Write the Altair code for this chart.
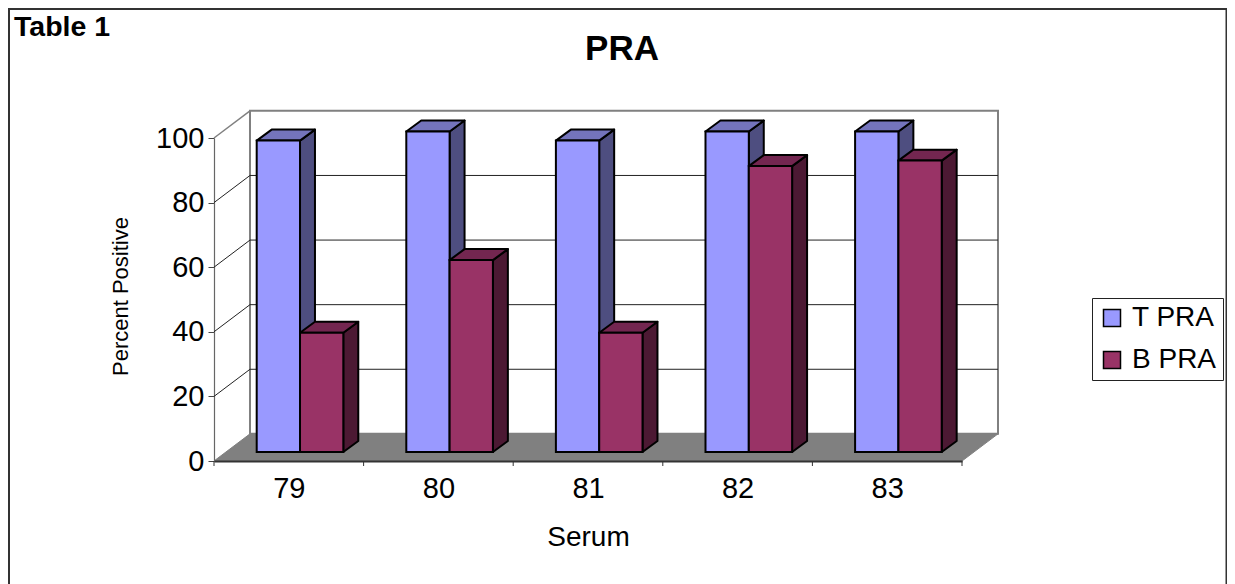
import altair as alt
import pandas as pd

categories = ["79", "80", "81", "82", "83"]
t_pra = [96.4, 99.2, 96.4, 99.2, 99.2]
b_pra = [36.9, 59.4, 36.9, 88.5, 90.2]
series_names = ["T PRA", "B PRA"]
front_colors = ["#9999FF", "#993366"]
top_colors = ["#7474BC", "#732650"]
side_colors = ["#4E4E80", "#4C1933"]
y_ticks = [0, 20, 40, 60, 80, 100]
grid_values = [20, 40, 60, 80]

FONT = "Liberation Sans"
PLOT_W, PLOT_H = 748, 323
WALL_DX, WALL_DY = 0.2406, 8.4      # depth of the chart box, in axis units
BAR_DX, BAR_DY = 0.1, 3.4           # depth of a bar, in axis units
BAR_OFFSET, BAR_W, BAR_LIFT = 0.2854, 0.2895, 2.8

N = len(categories)
x_scale = alt.Scale(domain=[0, N], nice=False, zero=False)
y_scale = alt.Scale(domain=[0, 100], nice=False, zero=False)

label_font = dict(labelFont=FONT, labelFontSize=29, labelColor="#000000")
x_axis = alt.Axis(values=[i + 0.5 for i in range(N)], ticks=False, domainColor="#333333",
                  domainWidth=2, grid=False, labelPadding=13, zindex=1,
                  labelExpr="['" + "','".join(categories) + "'][floor(datum.value)]",
                  title="Serum", titleFont=FONT, titleFontSize=28, titleFontWeight="normal",
                  titleColor="#000000", titlePadding=20, **label_font)
y_axis = alt.Axis(values=y_ticks, tickSize=6, tickColor="#444444", domainColor="#666666", domainWidth=1.2,
                  grid=False, labelPadding=4, title="Percent Positive", titleFont=FONT, titleFontSize=22,
                  titleFontWeight="normal", titleColor="#000000", titleX=-82, titleY=158, **label_font)

# ---- faces of every bar, in data units
fronts, tops, sides = [], [], []
for s, (name, vals) in enumerate(zip(series_names, [t_pra, b_pra])):
    for i, v in enumerate(vals):
        x0 = i + BAR_OFFSET + s * BAR_W
        x1 = x0 + BAR_W
        base, top = BAR_LIFT, BAR_LIFT + v
        fronts.append(dict(series=name, s=s, x=x0, x2=x1, y=base, y2=top))
        key = f"{s}-{i}"
        for xx, lo, hi in [
            (x0, top, top),
            (x0 + BAR_DX, top, top + BAR_DY),
            (x1, top, top + BAR_DY),
            (x1 + BAR_DX, top + BAR_DY, top + BAR_DY),
        ]:
            tops.append(dict(key=key, s=s, x=xx, y=lo, y2=hi))
        for xx, lo, hi in [(x1, base, top), (x1 + BAR_DX, base + BAR_DY, top + BAR_DY)]:
            sides.append(dict(key=key, s=s, x=xx, y=lo, y2=hi))
fronts, tops, sides = pd.DataFrame(fronts), pd.DataFrame(tops), pd.DataFrame(sides)

# ---- box: back wall, floor, grid lines
wall = pd.DataFrame([dict(x=WALL_DX, x2=N + WALL_DX, y=WALL_DY, y2=100 + WALL_DY)])
floor = pd.DataFrame([
    dict(x=0, y=0, y2=0),
    dict(x=WALL_DX, y=0, y2=WALL_DY),
    dict(x=N, y=0, y2=WALL_DY),
    dict(x=N + WALL_DX, y=WALL_DY, y2=WALL_DY),
])
grid = pd.DataFrame([
    dict(v=v, o=o, x=xx, y=v + dy)
    for v in grid_values
    for o, (xx, dy) in enumerate([(0, 0), (WALL_DX, WALL_DY), (N + WALL_DX, WALL_DY)])
])
edge = pd.DataFrame([dict(o=0, x=0, y=100), dict(o=1, x=WALL_DX, y=100 + WALL_DY)])
back_edge = pd.DataFrame([dict(o=0, x=WALL_DX, y=WALL_DY), dict(o=1, x=N + WALL_DX, y=WALL_DY)])
x_ticks = pd.DataFrame({"x": list(range(N + 1))})

X = alt.X("x:Q", scale=x_scale, axis=x_axis, title=None)
Y = alt.Y("y:Q", scale=y_scale, axis=y_axis, title=None)

wall_layer = alt.Chart(wall).mark_rect(fill="#FFFFFF", stroke="#808080", strokeWidth=2).encode(
    x=X, x2="x2:Q", y=Y, y2="y2:Q")
floor_layer = alt.Chart(floor).mark_area(color="#808080", stroke="#808080", strokeWidth=1).encode(
    x=X, y=Y, y2="y2:Q")
grid_layer = alt.Chart(grid).mark_line(color="#222222", strokeWidth=1).encode(
    x=X, y=Y, detail="v:N", order="o:Q")
edge_layer = alt.Chart(edge).mark_line(color="#808080", strokeWidth=1.5).encode(x=X, y=Y, order="o:Q")
back_edge_layer = alt.Chart(back_edge).mark_line(color="#808080", strokeWidth=1.5).encode(x=X, y=Y, order="o:Q")
tick_layer = alt.Chart(x_ticks).mark_rule(color="#333333", strokeWidth=1).encode(
    x=X, y=alt.value(PLOT_H), y2=alt.value(PLOT_H + 5))


def bar_layers(s):
    side = alt.Chart(sides[sides.s == s]).mark_area(
        color=side_colors[s], stroke="#000000", strokeWidth=2, strokeJoin="round"
    ).encode(x=X, y=Y, y2="y2:Q", detail="key:N")
    top = alt.Chart(tops[tops.s == s]).mark_area(
        color=top_colors[s], stroke="#000000", strokeWidth=2, strokeJoin="round"
    ).encode(x=X, y=Y, y2="y2:Q", detail="key:N")
    front = alt.Chart(fronts[fronts.s == s]).mark_rect(stroke="#000000", strokeWidth=2).encode(
        x=X, x2="x2:Q", y=Y, y2="y2:Q",
        color=alt.Color(
            "series:N",
            scale=alt.Scale(domain=series_names, range=front_colors),
            legend=alt.Legend(
                title=None, orient="none", legendX=878, legendY=160,
                strokeColor="#222222", fillColor="#FFFFFF", padding=6,
                symbolType="square", symbolSize=289, symbolStrokeColor="#000000", symbolStrokeWidth=1.5,
                labelFont=FONT, labelFontSize=28, labelColor="#000000", labelOffset=6,
                rowPadding=14, columns=1,
            ),
        ),
    )
    return [side, top, front]


one = pd.DataFrame({"a": [0]})
frame = alt.Chart(one).mark_rect(fill="transparent", stroke="#333333", strokeWidth=2).encode(
    x=alt.value(-205), x2=alt.value(1012.5), y=alt.value(-129), y2=alt.value(470))
table_label = alt.Chart(pd.DataFrame({"t": ["Table 1"]})).mark_text(
    font=FONT, fontSize=28.5, fontWeight="bold", align="left", baseline="alphabetic", color="#000000"
).encode(x=alt.value(-200), y=alt.value(-102), text="t:N")

chart = alt.layer(
    frame, wall_layer, floor_layer, back_edge_layer, grid_layer, edge_layer, tick_layer,
    *bar_layers(0), *bar_layers(1), table_label,
).properties(
    width=PLOT_W, height=PLOT_H,
    padding={"left": 206, "top": 130, "right": 265, "bottom": 123},
    autosize=alt.AutoSizeParams(type="none"),
    background="#FFFFFF",
    title=alt.TitleParams("PRA", font=FONT, fontSize=35, fontWeight="bold", color="#000000",
                          anchor="middle", dx=34, dy=63),
).configure_view(stroke=None)

chart.save("out.html", embed_options={"renderer": "svg", "actions": False})
